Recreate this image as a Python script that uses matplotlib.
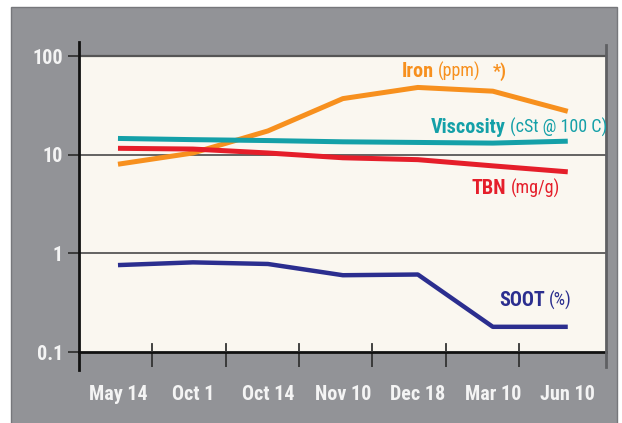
import matplotlib
matplotlib.use("Agg")
import matplotlib.pyplot as plt
from matplotlib import font_manager
from matplotlib.patches import Rectangle
from matplotlib.lines import Line2D
import numpy as np

# ---- data ----
categories = ["May 14", "Oct 1", "Oct 14", "Nov 10", "Dec 18", "Mar 10", "Jun 10"]
iron = [8.0, 10.4, 17.4, 37.0, 48.0, 44.0, 27.5]
viscosity = [14.6, 14.2, 13.9, 13.5, 13.3, 13.1, 13.7]
tbn = [11.6, 11.4, 10.4, 9.3, 8.9, 7.7, 6.7]
soot = [0.76, 0.81, 0.78, 0.60, 0.61, 0.18, 0.18]
ytick_vals = [0.1, 1, 10, 100]
ytick_labels = ["0.1", "1", "10", "100"]

names = {f.name for f in font_manager.fontManager.ttflist}
FONT = next((n for n in ["Roboto Condensed", "Archivo Narrow", "PT Sans Narrow",
                         "Fira Sans Condensed"] if n in names), "DejaVu Sans")
plt.rcParams["font.family"] = [FONT, "DejaVu Sans"]

GRAY = "#929397"
CREAM = "#FAF7F0"
ORANGE = "#F7901E"
TEAL = "#14A0A8"
RED = "#E51E2A"
NAVY = "#2B2E8F"
TXT = "#F4F4F4"

W, H = 622, 423
fig = plt.figure(figsize=(W / 100, H / 100), dpi=100)
fig.patch.set_facecolor("white")
fig.add_artist(Rectangle((11 / W, -0.01), (617 - 11) / W, (423 - 7) / H + 0.01,
                         transform=fig.transFigure, facecolor=GRAY,
                         edgecolor="#76777b", lw=1.0, zorder=0))

L, R, T, B = 79, 606, 56, 352
ax = fig.add_axes([L / W, 1 - B / H, (R - L) / W, (B - T) / H])
ax.set_facecolor(CREAM)
ax.set_yscale("log")
ax.set_ylim(0.1, 100)
ax.set_xlim(-0.52, 6.51)

x = np.arange(len(categories))
lw = 3.6
ax.plot(x, iron, color=ORANGE, lw=lw, solid_capstyle="butt", solid_joinstyle="round", zorder=3)
ax.plot(x, viscosity, color=TEAL, lw=lw, solid_capstyle="butt", solid_joinstyle="round", zorder=3)
ax.plot(x, tbn, color=RED, lw=lw, solid_capstyle="butt", solid_joinstyle="round", zorder=3)
ax.plot(x, soot, color=NAVY, lw=3.2, solid_capstyle="butt", solid_joinstyle="round", zorder=3)

# grid lines at 1 and 10
for v in ytick_vals[1:3]:
    ax.axhline(v, color="#4a4a4a", lw=1.2, zorder=2)

# spines
for s in ["left", "right"]:
    ax.spines[s].set_visible(False)
ax.spines["top"].set_color("#555555")
ax.spines["top"].set_linewidth(1.6)
ax.spines["bottom"].set_color("#111111")
ax.spines["bottom"].set_linewidth(2.0)

h = B - T
ax.add_line(Line2D([0, 0], [-18 / h, 1 + 14 / h], transform=ax.transAxes,
                   color="#111111", lw=2.0, clip_on=False, zorder=5))
ax.add_line(Line2D([1, 1], [-15 / h, 1 + 11 / h], transform=ax.transAxes,
                   color="#5f6063", lw=2.0, clip_on=False, zorder=5))

# y ticks
ax.set_yticks(ytick_vals)
ax.set_yticklabels(ytick_labels)
ax.yaxis.set_minor_locator(matplotlib.ticker.NullLocator())
ax.tick_params(axis="y", which="major", direction="out", length=8, width=1.3,
               color="#333333", pad=3.5, labelsize=14.5, labelcolor=TXT)
for t in ax.get_yticklabels():
    t.set_fontweight("bold")

# x ticks: boundaries as major ticks, category labels as minor ticks
bounds = -0.52 + np.arange(1, 7) * 0.978
ax.set_xticks(bounds)
ax.set_xticklabels([])
ax.tick_params(axis="x", which="major", direction="out", length=11, width=1.3,
               color="#333333")
for b in bounds:
    ax.add_line(Line2D([b, b], [0, 8 / h], transform=ax.get_xaxis_transform(),
                       color="#333333", lw=1.3, zorder=5))
ax.set_xticks(x, minor=True)
ax.set_xticklabels(categories, minor=True)
ax.tick_params(axis="x", which="minor", length=0, pad=24, labelsize=14.5,
               labelcolor=TXT)
for t in ax.get_xticklabels(minor=True):
    t.set_fontweight("bold")


def label(xp, yv, bold, regular, color, extra=None):
    t = ax.text(xp, yv, bold, color=color, fontsize=14.5, fontweight="bold",
                ha="left", va="center", zorder=6)
    a = ax.annotate(regular, xy=(1, 0), xycoords=t, xytext=(3, 0),
                    textcoords="offset points", va="bottom", ha="left",
                    color=color, fontsize=13, zorder=6)
    if extra:
        ax.annotate(extra, xy=(1, 0), xycoords=a, xytext=(9, 0),
                    textcoords="offset points", va="bottom", ha="left",
                    color=color, fontsize=13, fontweight="bold", zorder=6)


label(3.787, 68.9, "Iron", "(ppm)", ORANGE, "*)")
label(4.173, 19.05, "Viscosity", "(cSt @ 100 C)", TEAL)
label(4.72, 4.54, "TBN", "(mg/g)", RED)
label(5.08, 0.329, "SOOT", "(%)", NAVY)

fig.savefig("out.png", dpi=100, facecolor=fig.get_facecolor())
